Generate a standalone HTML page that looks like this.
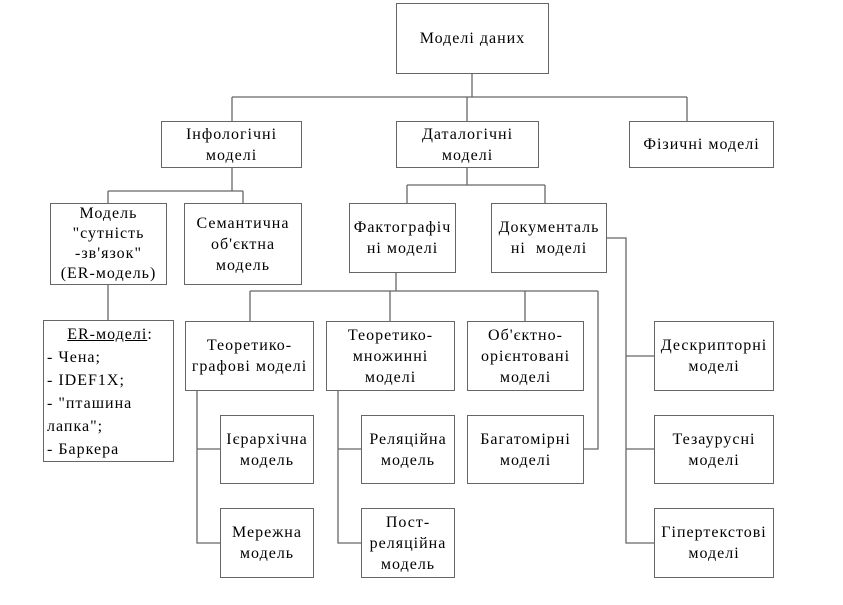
<!DOCTYPE html>
<html><head><meta charset="utf-8"><style>
body{margin:0;width:843px;height:605px;background:#fff;position:relative;overflow:hidden;font-family:"Liberation Serif",serif;font-size:16px;letter-spacing:1px;color:#000}
.b{position:absolute;border:1.3px solid #666;box-sizing:border-box;display:flex;align-items:center;justify-content:center;text-align:center;line-height:21px;background:#fff;white-space:nowrap}
svg{position:absolute;left:0;top:0}
</style></head><body>
<svg width="843" height="605"><g stroke="#666" stroke-width="1.3" fill="none">
<path d="M472 74V97M232 97H687M232 97V121M467 97V121M687 97V121"/>
<path d="M232 168V191M108 191H243M108 191V203M243 191V203"/>
<path d="M467 168V185M407 185H545M407 185V203M545 185V203"/>
<path d="M108 285V320"/>
<path d="M396 273V291M250 291H598M250 291V321M390 291V321M525 291V321M598 291V449H584"/>
<path d="M197 391V543H220M197 449H220"/>
<path d="M338 391V543H361M338 449H361"/>
<path d="M607 238H626V543H654M626 356H654M626 449H654"/>
</g></svg>
<div class="b" style="left:396px;top:3px;width:153px;height:71px">Моделі даних</div>
<div class="b" style="left:161px;top:121px;width:141px;height:47px">Інфологічні<br>моделі</div>
<div class="b" style="left:396px;top:121px;width:143px;height:47px">Даталогічні<br>моделі</div>
<div class="b" style="left:629px;top:121px;width:145px;height:47px">Фізичні моделі</div>
<div class="b" style="left:50px;top:203px;width:117px;height:82px;line-height:20px">Модель<br>"сутність<br>-зв'язок"<br>(ER-модель)</div>
<div class="b" style="left:184px;top:203px;width:118px;height:82px">Семантична<br>об'єктна<br>модель</div>
<div class="b" style="left:349px;top:203px;width:107px;height:70px">Фактографіч<br>ні моделі</div>
<div class="b" style="left:491px;top:203px;width:116px;height:70px">Документаль<br>ні&nbsp; моделі</div>
<div class="b" style="left:43px;top:320px;width:131px;height:142px;display:block;text-align:left;line-height:23px;padding-top:2px;padding-left:3px"><div style="text-align:center"><u>ER-моделі</u>:</div>- Чена;<br>- IDEF1X;<br>- "пташина<br>лапка";<br>- Баркера</div>
<div class="b" style="left:185px;top:321px;width:129px;height:70px">Теоретико-<br>графові моделі</div>
<div class="b" style="left:326px;top:321px;width:129px;height:70px">Теоретико-<br>множинні<br>моделі</div>
<div class="b" style="left:467px;top:321px;width:117px;height:70px">Об'єктно-<br>орієнтовані<br>моделі</div>
<div class="b" style="left:220px;top:415px;width:94px;height:69px">Ієрархічна<br>модель</div>
<div class="b" style="left:220px;top:508px;width:94px;height:70px">Мережна<br>модель</div>
<div class="b" style="left:361px;top:415px;width:94px;height:69px">Реляційна<br>модель</div>
<div class="b" style="left:361px;top:508px;width:94px;height:70px">Пост-<br>реляційна<br>модель</div>
<div class="b" style="left:467px;top:415px;width:117px;height:69px">Багатомірні<br>моделі</div>
<div class="b" style="left:654px;top:321px;width:120px;height:70px">Дескрипторні<br>моделі</div>
<div class="b" style="left:654px;top:415px;width:120px;height:69px">Тезаурусні<br>моделі</div>
<div class="b" style="left:654px;top:508px;width:120px;height:70px">Гіпертекстові<br>моделі</div>
</body></html>
